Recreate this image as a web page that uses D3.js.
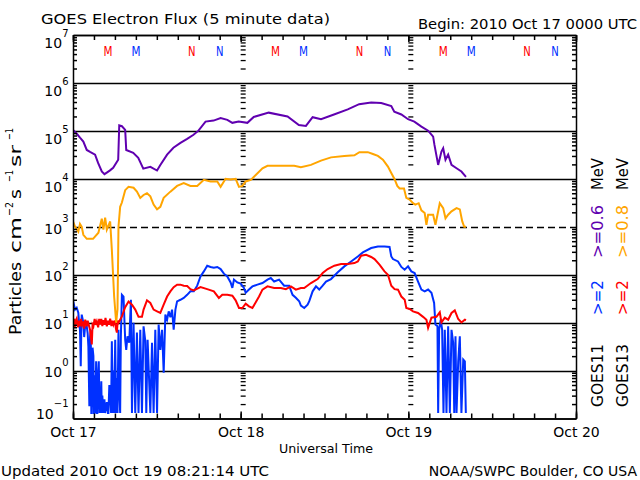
<!DOCTYPE html>
<html>
<head>
<meta charset="utf-8">
<script src="https://cdn.jsdelivr.net/npm/d3@7/dist/d3.min.js"></script>
<style>
html,body{margin:0;padding:0;background:#fff;}
svg text{font-family:"DejaVu Sans",sans-serif;}
</style>
</head>
<body>
<svg id="chart" width="640" height="480"></svg>
<script>
// ---------- data ----------
const startUTC = Date.UTC(2010, 9, 17);           // 2010 Oct 17 00:00 UTC
const dayLabels = ["Oct 17", "Oct 18", "Oct 19", "Oct 20"];
const decadeExps = [-1, 0, 1, 2, 3, 4, 5, 6, 7];
const gridSolid = [1e0, 1e1, 1e2, 1e4, 1e5, 1e6];
const gridDashed = [1e3];
// local midnight / noon marks: hour of day, letter, satellite
const mnHours = [5, 9, 17, 21];
const mnLetters = ["M", "M", "N", "N"];
const mnSats = ["GOES13", "GOES11", "GOES13", "GOES11"];

// [hours since start, flux]
const goes11_06 = [[0,1.05e5],[0.6,8.5e4],[1.0,7.2e4],[1.48,6.0e4],[1.97,4.0e4],[2.44,3.65e4],[3.16,3.2e4],[3.59,2.15e4],[4.12,1.42e4],[4.5,1.25e4],[4.84,1.35e4],[5.3,1.5e4],[5.75,1.7e4],[6.47,2.5e4],[6.62,1.3e5],[7.0,1.25e5],[7.47,1.05e5],[7.62,4.0e4],[8.62,3.5e4],[9.34,2.75e4],[10.06,1.63e4],[11.07,1.78e4],[12.03,1.49e4],[12.5,1.95e4],[13.47,3.2e4],[14.37,4.45e4],[15.38,5.6e4],[16.34,6.8e4],[17.25,8.3e4],[17.96,1.01e5],[18.97,1.56e5],[20.12,1.64e5],[21.13,1.86e5],[22.09,1.7e5],[22.81,1.47e5],[23.71,1.56e5],[24.96,1.47e5],[25.87,1.95e5],[28.02,2.4e5],[30.71,2.0e5],[32.33,1.33e5],[33.34,1.27e5],[34.3,1.93e5],[35.5,1.75e5],[37.36,2.2e5],[39.33,2.8e5],[40.96,3.6e5],[42.68,3.9e5],[44.12,3.8e5],[45.56,3.3e5],[45.99,2.5e5],[47.0,2.2e5],[47.96,1.75e5],[48.86,1.56e5],[49.87,1.23e5],[50.83,1.01e5],[51.55,7.6e4],[51.74,5.1e4],[52.27,1.95e4],[52.74,3.7e4],[52.99,4.35e4],[53.32,2.5e4],[53.7,3.2e4],[54.18,1.95e4],[54.9,1.66e4],[55.6,1.42e4],[56.25,1.1e4]];

const goes13_08 = [[0,1290],[0.29,1010],[0.76,790],[1.0,1150],[1.25,1000],[1.48,680],[1.97,560],[2.87,560],[3.64,750],[4.12,1470],[4.35,870],[4.6,1550],[4.84,870],[5.32,1290],[5.56,330],[5.89,35],[6.18,10],[6.37,19],[6.51,1000],[6.75,2600],[7.0,3200],[7.47,5800],[7.95,6800],[8.67,6500],[9.15,5400],[9.63,4000],[10.1,4600],[10.59,5000],[11.07,4300],[11.54,2900],[12.03,2300],[12.5,2600],[12.98,4000],[13.94,5400],[14.9,7100],[15.85,8100],[16.81,7100],[17.78,7100],[18.73,9500],[19.69,8800],[20.65,8800],[21.13,6800],[21.84,10000],[22.56,9700],[23.28,10000],[23.76,6800],[24.24,7100],[24.72,8800],[25.44,9500],[26.16,12000],[27.12,16600],[27.84,18700],[29.75,18700],[31.66,18700],[32.62,17500],[34.06,19500],[35.5,24000],[36.93,28000],[38.84,30000],[40.28,31000],[41.0,36000],[42.2,36000],[42.93,33000],[43.64,30000],[44.36,25000],[45.08,18000],[45.56,13200],[46.03,9800],[46.42,7100],[46.75,6300],[47.38,6300],[47.71,4000],[48.19,3700],[48.67,3100],[49.0,2900],[49.48,3100],[49.87,2200],[50.34,1930],[50.59,1100],[50.83,1780],[51.55,1780],[51.88,1100],[52.17,1780],[52.5,3100],[52.99,2450],[53.32,1500],[53.7,1780],[54.18,2100],[54.9,2450],[55.37,2300],[55.72,1290],[56.0,1000],[56.25,1000]];

const goes13_2 = [[0,9.9],[0.15,12],[0.25,8],[0.4,11],[0.53,12.1],[0.7,8],[0.85,11],[1.0,8.4],[1.15,12],[1.3,9],[1.48,10.6],[1.6,7.5],[1.75,11.5],[1.97,8.4],[2.1,11],[2.25,9],[2.44,7.1],[2.69,3.5],[2.8,9],[2.92,8.4],[3.1,12],[3.25,9],[3.41,10.6],[3.6,8],[3.75,12],[3.88,9.1],[4.05,12],[4.2,8.5],[4.35,11.2],[4.5,9],[4.65,12.5],[4.84,8.4],[5.0,11],[5.15,9],[5.32,12.1],[5.5,8.5],[5.65,11],[5.79,9.1],[6.0,11],[6.14,7.5],[6.28,6.2],[6.4,11],[6.51,9.9],[7.0,13.5],[7.47,21],[7.95,27.6],[8.44,23.7],[8.91,18.7],[9.38,13.2],[9.87,13.2],[10.1,18.7],[10.59,29.2],[11.07,25.7],[11.54,18.7],[12.03,17.2],[12.5,15.9],[12.98,23.7],[13.47,35],[13.94,44.8],[14.41,55],[14.9,62],[15.38,62],[15.85,59],[16.34,58],[16.81,50],[17.29,47],[18.25,55],[19.21,50],[20.16,45],[20.88,32.7],[21.37,38.3],[22.09,38.3],[22.81,36.5],[23.28,29.2],[23.76,20.2],[24.24,20.2],[24.72,24.9],[25.19,21.9],[25.68,20.2],[26.16,26.5],[26.63,35],[27.12,48.7],[27.84,57],[28.79,52.8],[29.75,52.8],[30.47,50],[31.19,57],[31.9,48.7],[32.62,52.8],[33.1,52.8],[34.06,67],[35.02,81],[35.74,108],[36.46,131],[37.41,154],[38.37,167],[39.33,167],[40.28,175],[40.77,189],[41.24,249],[41.96,261],[42.68,234],[43.16,212],[43.87,162],[44.59,117],[45.08,100],[45.56,59],[46.03,50],[46.52,48.7],[47.0,35],[47.48,30],[47.71,20.2],[48.19,19.3],[48.67,17.2],[49.39,15.9],[50.11,13.2],[50.59,11.5],[50.83,7.8],[51.31,12.7],[52.02,13.2],[52.5,16.4],[52.74,10.1],[53.22,12.7],[53.7,11.5],[54.18,15.9],[54.65,18],[55.14,11.9],[55.6,10.1],[56.09,11.5],[56.25,11.2]];

const goes11_2 = [[0,23.7],[0.04,27.8],[0.29,18.7],[0.53,20.5],[0.76,16.2],[0.9,9],[1.0,7.1],[1.11,1.23],[1.2,9],[1.25,14.7],[1.48,10],[1.6,5],[1.72,7.9],[1.97,8.4],[2.1,6],[2.2,3.2],[2.34,0.18],[2.44,5],[2.54,7.1],[2.62,0.13],[2.69,0.13],[2.8,3],[2.92,2.0],[3.0,0.13],[3.06,0.13],[3.15,0.8],[3.2,0.13],[3.31,1.56],[3.4,0.13],[3.49,0.13],[3.6,0.9],[3.69,1.56],[3.8,0.13],[3.88,0.35],[3.95,0.13],[4.05,0.6],[4.12,0.13],[4.2,0.3],[4.35,0.13],[4.5,0.25],[4.6,0.13],[4.84,0.22],[5.0,0.13],[5.07,0.13],[5.2,0.5],[5.32,0.35],[5.45,0.13],[5.56,4.1],[5.71,0.13],[5.8,1.0],[5.89,0.13],[6.04,4.4],[6.18,0.13],[6.27,0.7],[6.37,0.13],[6.51,7.1],[6.6,0.5],[6.75,0.13],[6.85,5],[7.0,38],[7.23,35],[7.47,4.4],[7.62,2.7],[7.8,5.2],[8.05,3.8],[8.29,30],[8.44,0.13],[8.67,9.9],[8.91,0.13],[9.15,6.2],[9.38,0.13],[9.63,7.1],[9.87,0.13],[10.1,8.4],[10.35,4.1],[10.49,0.13],[10.68,4.4],[11.07,0.13],[11.31,3.8],[11.54,0.13],[11.78,7.1],[12.03,0.13],[12.26,9.1],[12.5,2.7],[12.75,7.1],[12.98,0.9],[13.22,14.7],[13.47,11.5],[13.7,17.2],[13.94,13],[14.18,18.7],[14.41,7.1],[14.66,18.7],[14.9,27.8],[15.38,30],[15.85,32.7],[16.34,38],[16.81,45],[17.29,45],[17.78,59],[18.25,92],[18.73,117],[19.21,154],[19.69,145],[20.16,140],[20.65,145],[21.13,131],[21.6,105],[22.09,92],[22.56,69],[22.81,53],[23.04,79],[23.52,69],[24.0,65],[24.47,53],[24.72,42],[25.19,49],[25.68,57],[26.4,62],[27.12,67],[27.84,79],[28.31,85],[28.79,72],[29.5,79],[30.22,59],[30.94,59],[31.43,38],[31.9,33],[32.38,28],[32.62,22.6],[33.1,20.2],[33.58,23.7],[33.82,28],[34.3,45],[34.78,57],[35.25,49],[35.74,59],[36.22,72],[36.93,81],[37.9,112],[38.84,149],[39.81,189],[40.77,240],[41.49,292],[42.68,360],[43.64,389],[44.6,389],[45.31,380],[45.56,240],[45.8,212],[46.52,189],[47.0,145],[47.47,127],[47.96,149],[48.43,117],[48.9,108],[49.39,72],[49.87,49],[50.34,45],[50.83,49],[51.31,42],[51.69,25.7],[51.88,9.1],[52.17,8.4],[52.27,0.13],[52.41,7.1],[52.64,11.5],[52.84,7.1],[53.03,0.13],[53.22,7.1],[53.46,0.13],[53.7,8.4],[53.94,0.13],[54.18,7.1],[54.42,3.8],[54.57,0.13],[54.75,5.2],[54.9,0.13],[55.14,1.56],[55.37,5.2],[55.6,0.13],[55.86,1.7],[56.09,1.56],[56.23,0.13]];

// ---------- setup ----------
const C = {purple:"#6000b0", orange:"#ffa500", red:"#ff0000", blue:"#0030ff", ink:"#000"};
const svg = d3.select("#chart");
svg.append("rect").attr("width",640).attr("height",480).attr("fill","#fff");

const hToDate = h => new Date(startUTC + h * 3600e3);
const days = [0, 24, 48, 72].map(hToDate);
const x = d3.scaleUtc().domain([days[0], days[3]]).range([73, 576]);
const y = d3.scaleLog().domain([0.1, 1e7]).range([418.5, 35]);
const X0 = x.range()[0], X1 = x.range()[1], Y0 = y.range()[0], Y1 = y.range()[1];

const minorVals = [];
decadeExps.slice(0, -1).forEach(e => { for (let m = 2; m <= 9; m++) minorVals.push(+(m + "e" + e)); });

// grid
svg.append("g").selectAll("line").data(gridSolid).join("line")
  .attr("x1", X0).attr("x2", X1).attr("y1", d => Math.round(y(d)) + 0.5).attr("y2", d => Math.round(y(d)) + 0.5)
  .attr("stroke", C.ink).attr("stroke-width", 1.5);
svg.append("g").selectAll("line").data(gridDashed).join("line")
  .attr("x1", X0).attr("x2", X1).attr("y1", d => Math.round(y(d)) + 0.5).attr("y2", d => Math.round(y(d)) + 0.5)
  .attr("stroke", C.ink).attr("stroke-width", 1.5).attr("stroke-dasharray", "7,4").attr("stroke-dashoffset", -2);

// inner day-boundary tick columns
[days[1], days[2]].forEach(d => {
  const g = svg.append("g").attr("transform", `translate(${x(d)},0)`)
    .call(d3.axisRight(y).tickValues(minorVals).tickSize(5).tickFormat(""));
  g.select(".domain").remove();
  g.selectAll("line").attr("stroke-width", 1.3);
});

// data lines
svg.append("clipPath").attr("id", "plotclip").append("rect")
  .attr("x", X0).attr("y", Y1).attr("width", X1 - X0).attr("height", Y0 - Y1);
const line = d3.line().x(d => x(hToDate(d[0]))).y(d => y(d[1]));
const series = [[goes11_2, C.blue], [goes13_2, C.red], [goes13_08, C.orange], [goes11_06, C.purple]];
const gData = svg.append("g").attr("clip-path", "url(#plotclip)");
series.forEach(([data, col]) => {
  gData.append("path").datum(data).attr("d", line).attr("fill", "none")
    .attr("stroke", col).attr("stroke-width", 2).attr("stroke-linejoin", "miter");
});

// axes
function styleAxis(g) {
  g.selectAll("line,path").attr("stroke", C.ink).attr("stroke-width", 1.5);
  return g;
}
const hours3 = d3.utcHour.every(3);
styleAxis(svg.append("g").attr("transform", `translate(0,${Y0})`)
  .call(d3.axisBottom(x).ticks(hours3).tickSize(-5).tickSizeOuter(0).tickFormat("")));
const gDays = svg.append("g").attr("transform", `translate(0,${Y0})`)
  .call(d3.axisBottom(x).tickValues(days).tickSize(-7).tickSizeOuter(0).tickPadding(9)
    .tickFormat((d, i) => dayLabels[i]));
styleAxis(gDays);
gDays.selectAll("text").attr("font-size", 14).attr("fill", C.ink);
styleAxis(svg.append("g").attr("transform", `translate(0,${Y1})`)
  .call(d3.axisTop(x).ticks(hours3).tickSize(-5).tickSizeOuter(0).tickFormat("")));
styleAxis(svg.append("g").attr("transform", `translate(0,${Y1})`)
  .call(d3.axisTop(x).tickValues(days).tickSize(-7).tickSizeOuter(0).tickFormat("")));
styleAxis(svg.append("g").attr("transform", `translate(${X0},0)`)
  .call(d3.axisLeft(y).tickValues(minorVals).tickSize(-4).tickSizeOuter(0).tickFormat("")));
styleAxis(svg.append("g").attr("transform", `translate(${X1},0)`)
  .call(d3.axisRight(y).tickValues(minorVals).tickSize(-4).tickSizeOuter(0).tickFormat("")));

// decade labels
const gY = svg.append("g");
decadeExps.forEach(e => {
  const ty = y(Math.pow(10, e));
  const off = e >= 4 ? 13.4 : (e >= 0 ? 6.8 : 0);
  const t = gY.append("text").attr("x", 68.5).attr("y", ty + off).attr("text-anchor", "end")
    .attr("font-size", 14).attr("fill", C.ink).text("10");
  t.append("tspan").attr("dy", -11.5).attr("font-size", 10).text(e < 0 ? "\u2212" + (-e) : String(e));
});

// M / N marks
const gMN = svg.append("g");
[0, 1, 2].forEach(dd => {
  mnHours.forEach((h, i) => {
    gMN.append("text").attr("x", x(hToDate(dd * 24 + h))).attr("y", 55.5)
      .attr("text-anchor", "middle").attr("font-size", 13.5)
      .attr("textLength", mnLetters[i] === "M" ? 9 : 7.5).attr("lengthAdjust", "spacingAndGlyphs")
      .attr("fill", mnSats[i] === "GOES13" ? C.red : C.blue).text(mnLetters[i]);
  });
});

// titles
function txt(s, xx, yy, size, len, anchor, col) {
  const t = svg.append("text").attr("x", xx).attr("y", yy).attr("font-size", size)
    .attr("fill", col || C.ink).attr("text-anchor", anchor || "start").text(s);
  if (len) t.attr("textLength", len).attr("lengthAdjust", "spacingAndGlyphs");
  return t;
}
txt("GOES Electron Flux (5 minute data)", 41, 24, 14.5, 289);
txt("Begin: 2010 Oct 17 0000 UTC", 418, 28.5, 14.5, 219);
txt("Universal Time", 279, 453, 12.5, 94);
txt("Updated 2010 Oct 19 08:21:14 UTC", 1, 476, 14.5, 268);
txt("NOAA/SWPC Boulder, CO USA", 637, 476, 14, null, "end");

// rotated text helper
function rtxt(s, bx, yStart, size, len, col, dy) {
  const t = svg.append("text").attr("transform", `translate(${bx},${yStart}) rotate(-90)`)
    .attr("x", 0).attr("y", dy || 0).attr("font-size", size).attr("fill", col || C.ink).text(s);
  if (len) t.attr("textLength", len).attr("lengthAdjust", "spacingAndGlyphs");
  return t;
}
// y-axis title pieces
const ytBase = 21, ytStart = 335;
rtxt("Particles", ytBase, ytStart, 16, 73);
rtxt("cm", ytBase, ytStart - 82, 16, 36);
rtxt("\u22122", ytBase, ytStart - 119, 11, 14, C.ink, -8);
rtxt("s", ytBase, ytStart - 136, 16, 10);
rtxt("\u22121", ytBase, ytStart - 153, 11, 12, C.ink, -8);
rtxt("sr", ytBase, ytStart - 168, 16, 22);
rtxt("\u22121", ytBase, ytStart - 195, 11, 12, C.ink, -8);

// right-side legend columns
const legendCols = [
  {bx: 602.5, items: [["GOES11", C.ink], [">=2", C.blue], [">=0.6", C.purple], ["MeV", C.ink]]},
  {bx: 628,   items: [["GOES13", C.ink], [">=2", C.red],  [">=0.8", C.orange], ["MeV", C.ink]]}
];
const legendStarts = [407, 315, 258, 190];
const legendLens = [63, 35, 53, 32];
legendCols.forEach(col => {
  col.items.forEach((it, i) => rtxt(it[0], col.bx, legendStarts[i], 15, legendLens[i], it[1]));
});
</script>
</body>
</html>
